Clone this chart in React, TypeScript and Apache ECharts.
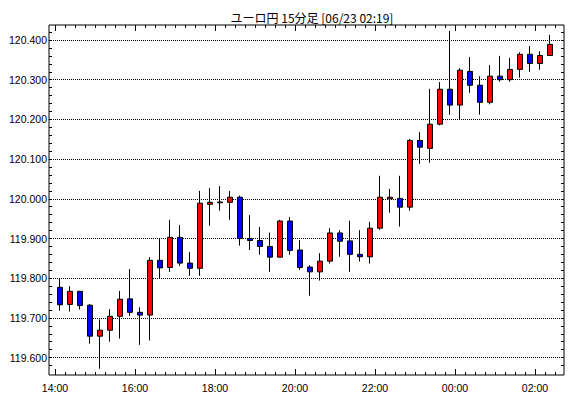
import React, { useEffect, useRef } from "react";
import * as echarts from "echarts";

const titleText = "ユーロ円 15分足 [06/23 02:19]";

const times = [
  "14:00","14:15","14:30","14:45","15:00","15:15","15:30","15:45",
  "16:00","16:15","16:30","16:45","17:00","17:15","17:30","17:45",
  "18:00","18:15","18:30","18:45","19:00","19:15","19:30","19:45",
  "20:00","20:15","20:30","20:45","21:00","21:15","21:30","21:45",
  "22:00","22:15","22:30","22:45","23:00","23:15","23:30","23:45",
  "00:00","00:15","00:30","00:45","01:00","01:15","01:30","01:45",
  "02:00","02:15",
];

const opens = [
  119.777,119.734,119.767,119.732,119.654,119.669,119.704,119.748,119.714,119.707,
  119.845,119.827,119.903,119.838,119.825,119.986,119.990,119.991,120.004,119.900,
  119.895,119.880,119.853,119.944,119.871,119.828,119.816,119.843,119.914,119.894,
  119.860,119.854,119.926,120.000,120.001,119.979,120.147,120.127,120.188,120.276,
  120.236,120.321,120.286,120.243,120.309,120.300,120.326,120.364,120.341,120.361,
];
const closes = [
  119.733,119.767,119.731,119.654,119.669,119.704,119.747,119.714,119.707,119.845,
  119.826,119.903,119.838,119.825,119.989,119.991,119.992,120.004,119.900,119.895,
  119.880,119.853,119.944,119.870,119.827,119.816,119.843,119.914,119.893,119.860,
  119.854,119.926,120.004,120.004,119.979,120.147,120.130,120.188,120.276,120.236,
  120.324,120.286,120.243,120.309,120.300,120.326,120.364,120.341,120.361,120.389,
];
const lows = [
  119.718,119.716,119.721,119.635,119.572,119.640,119.648,119.705,119.632,119.643,
  119.800,119.816,119.831,119.806,119.806,119.932,119.970,119.947,119.882,119.871,
  119.859,119.816,119.853,119.859,119.821,119.756,119.794,119.837,119.854,119.816,
  119.842,119.837,119.922,119.965,119.930,119.970,120.088,120.091,120.185,120.212,
  120.200,120.267,120.212,120.238,120.295,120.295,120.305,120.320,120.325,120.361,
];
const highs = [
  119.800,119.780,119.768,119.735,119.696,119.722,119.768,119.823,119.727,119.853,
  119.900,119.947,119.934,119.866,120.020,120.027,120.032,120.020,120.008,119.959,
  119.929,119.915,119.947,119.954,119.896,119.833,119.863,119.926,119.921,119.945,
  119.921,119.942,120.058,120.025,120.058,120.151,120.168,120.277,120.294,120.423,
  120.329,120.357,120.309,120.337,120.360,120.355,120.369,120.385,120.372,120.413,
];

// y-axis label range (0.1 steps) and fine tick range (0.02 steps)
const yLabelMin = 119.6;
const yLabelMax = 120.4;
const yTickMin = 119.58;
const yTickMax = 120.42;
// x tick axis in 15-minute slots from 14:00
const xLabelSlotMax = 48; // 14:00 .. 02:00
const xTailSlots = 2; // 02:00 .. 02:30 minor ticks
const startHour = 14;

const FONT = "Liberation Sans";

export default function App() {
  const ref = useRef<HTMLDivElement>(null);

  useEffect(() => {
    document.body.style.margin = "0";
    if (!ref.current) return;
    const chart = echarts.init(ref.current, undefined, { renderer: "svg" });

    // pixel geometry
    const frameL = 49, frameT = 25, frameW = 515, frameH = 350;
    const yTop = 40, yBot = 357.6; // 120.4 and 119.6
    const pxPer = (yBot - yTop) / (yLabelMax - yLabelMin);
    const tickTop = yTop - (yTickMax - yLabelMax) * pxPer;
    const tickBot = yBot + (yLabelMin - yTickMin) * pxPer;
    const slotL = 55, slotW = 10;

    const data = times.map((_, i) => [opens[i], closes[i], lows[i], highs[i]]);

    const hidden = { show: false, type: "value" as const, min: 0, max: 1 };
    const tickStyle = { color: "#000", width: 1 };

    const xTickAxis = (grid: number, pos: "top" | "bottom", withLabel: boolean) => ({
      type: "value" as const, gridIndex: grid, position: pos, min: 0, max: xLabelSlotMax, interval: 8,
      axisLine: { show: false },
      axisTick: { show: true, inside: true, length: 6, lineStyle: tickStyle },
      minorTick: { show: true, splitNumber: 8, length: 3, lineStyle: tickStyle },
      splitLine: { show: false },
      axisLabel: withLabel
        ? {
            margin: 7,
            color: "#000",
            fontFamily: FONT,
            fontSize: 10.5,
            formatter: (v: number) => {
              const h = (startHour + Math.round(v) / 4) % 24;
              return String(h).padStart(2, "0") + ":00";
            },
          }
        : { show: false },
    });
    const xTailAxis = (grid: number, pos: "top" | "bottom") => ({
      type: "value" as const, gridIndex: grid, position: pos, min: 0, max: xTailSlots, interval: 1,
      axisLine: { show: false },
      axisTick: { show: true, inside: true, length: 3, lineStyle: tickStyle },
      splitLine: { show: false },
      axisLabel: { show: false },
    });

    chart.setOption({
      animation: false,
      backgroundColor: "#fff",
      title: {
        text: titleText,
        left: 307,
        top: 6,
        textAlign: "center",
        textStyle: {
          fontFamily: "Noto Sans CJK JP",
          fontSize: 12,
          fontWeight: "normal",
          color: "#000",
        },
      },
      grid: [
        { left: frameL, top: frameT, width: frameW, height: frameH, show: true, borderColor: "#000", borderWidth: 1, backgroundColor: "#fff" },
        { left: frameL, top: yTop, width: frameW, height: yBot - yTop },
        { left: frameL, top: tickTop, width: frameW, height: tickBot - tickTop },
        { left: slotL, top: yTop, width: slotW * times.length, height: yBot - yTop },
        { left: slotL, top: frameT, width: slotW * xLabelSlotMax, height: frameH },
        { left: slotL + slotW * xLabelSlotMax, top: frameT, width: slotW * xTailSlots, height: frameH },
      ],
      xAxis: [
        { ...hidden, gridIndex: 0 },
        { ...hidden, gridIndex: 1 },
        { ...hidden, gridIndex: 2 },
        { type: "category", gridIndex: 3, data: times, show: false, boundaryGap: true },
        xTickAxis(4, "bottom", true),
        xTickAxis(4, "top", false),
        xTailAxis(5, "bottom"),
        xTailAxis(5, "top"),
      ],
      yAxis: [
        { ...hidden, gridIndex: 0 },
        {
          type: "value", gridIndex: 1, min: yLabelMin, max: yLabelMax, interval: 0.1,
          axisLine: { show: false },
          axisTick: { show: false },
          splitLine: { show: true, lineStyle: { color: "#000", width: 1, type: [1, 1] } },
          axisLabel: {
            margin: 2,
            color: "#000",
            fontFamily: FONT,
            fontSize: 10.5,
            formatter: (v: number) => v.toFixed(3),
          },
        },
        {
          type: "value", gridIndex: 2, position: "left", min: yTickMin, max: yTickMax, interval: 0.02,
          axisLine: { show: false },
          axisTick: { show: true, inside: true, length: 3, lineStyle: tickStyle },
          splitLine: { show: false },
          axisLabel: { show: false },
        },
        {
          type: "value", gridIndex: 2, position: "right", min: yTickMin, max: yTickMax, interval: 0.02,
          axisLine: { show: false },
          axisTick: { show: true, inside: true, length: 3, lineStyle: tickStyle },
          splitLine: { show: false },
          axisLabel: { show: false },
        },
        { type: "value", gridIndex: 3, min: yLabelMin, max: yLabelMax, show: false },
        { ...hidden, gridIndex: 4 },
        { ...hidden, gridIndex: 5 },
      ],
      series: [
        {
          type: "candlestick",
          xAxisIndex: 3,
          yAxisIndex: 4,
          data,
          clip: false,
          barWidth: 5,
          itemStyle: {
            color: "#ff0000",
            color0: "#0000ff",
            borderColor: "#000",
            borderColor0: "#000",
            borderColorDoji: "#000",
            borderWidth: 1,
          },
        },
      ],
    });

    return () => chart.dispose();
  }, []);

  return <div ref={ref} style={{ width: 570, height: 398 }} />;
}
